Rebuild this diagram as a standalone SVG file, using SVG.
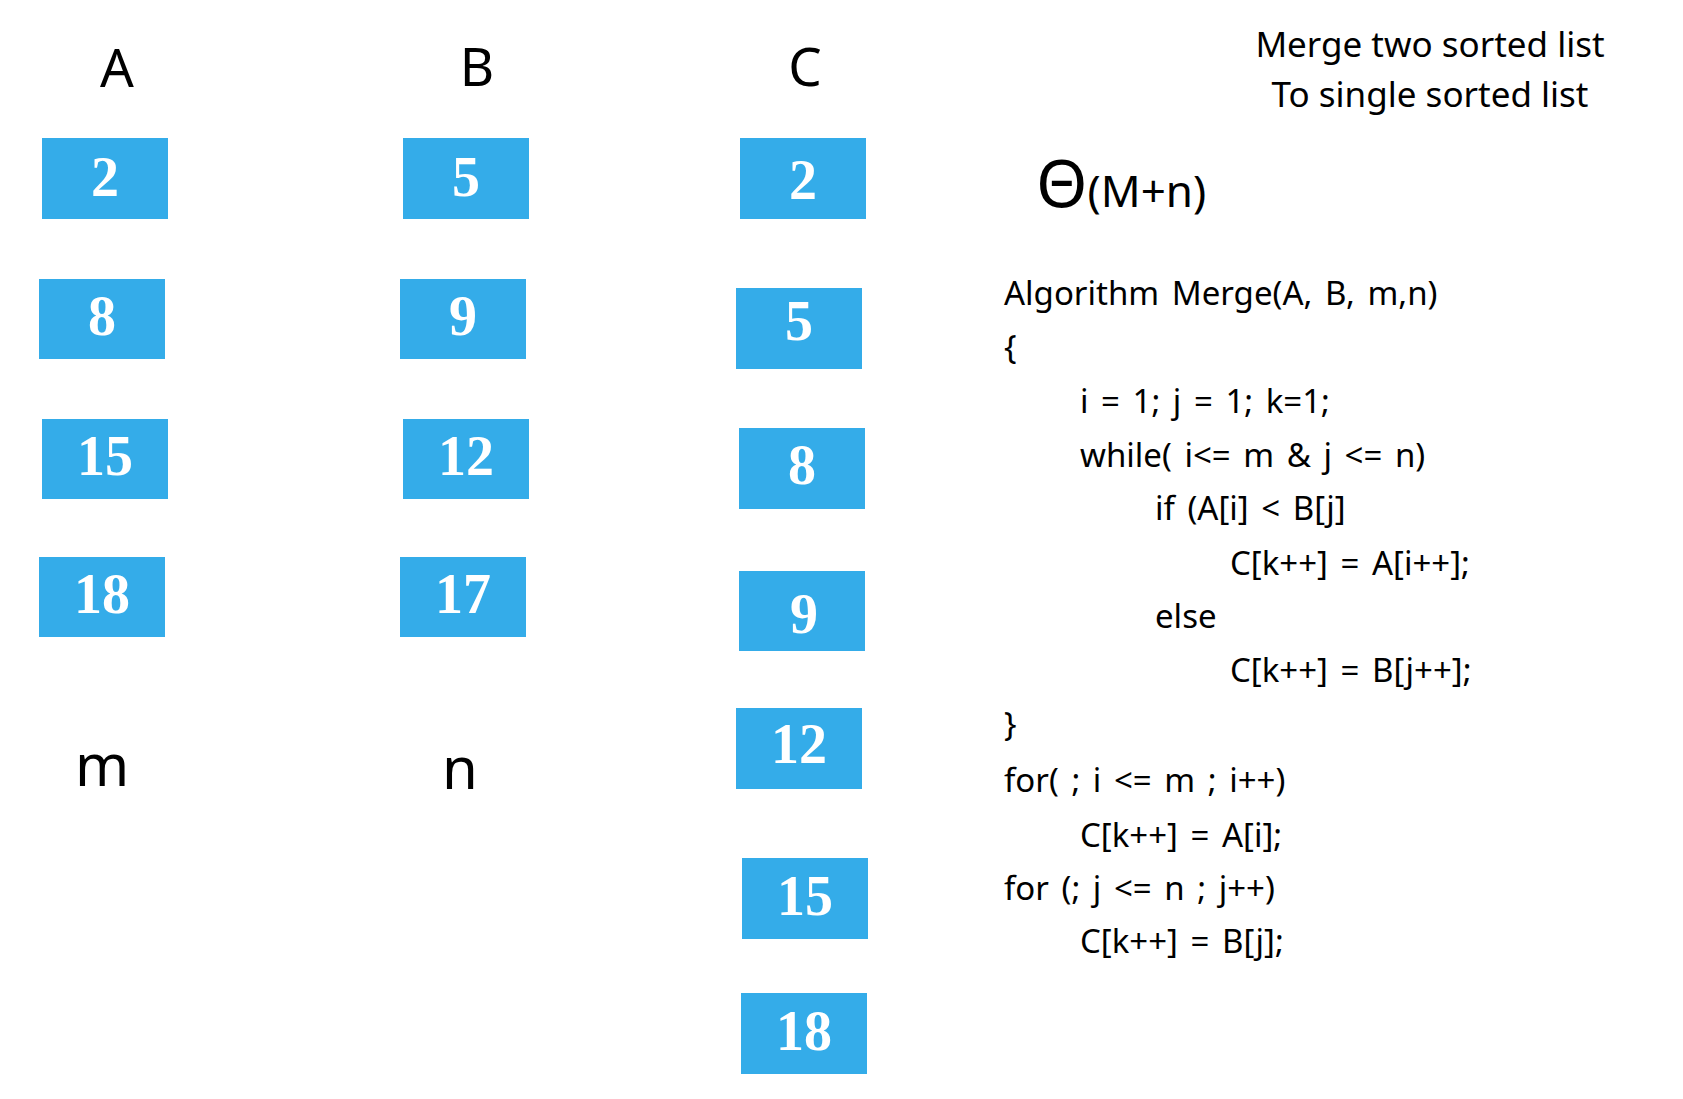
<svg xmlns="http://www.w3.org/2000/svg" width="1683" height="1099" viewBox="0 0 1683 1099">
<style>
.box{fill:#34ACE9}
.num{font-family:"Liberation Serif","Times New Roman",serif;font-weight:bold;font-size:56px;fill:#ffffff;text-anchor:middle}
.lbl{font-family:"Noto Sans","Open Sans",sans-serif;font-size:53px;fill:#000;text-anchor:middle}
.code{font-family:"Noto Sans","Open Sans",sans-serif;font-size:33px;word-spacing:4px;fill:#000}
.title{font-family:"Noto Sans","Open Sans",sans-serif;font-size:35px;fill:#000;text-anchor:middle}
</style>
<rect width="1683" height="1099" fill="#ffffff"/>
<g id="labels">
<text class="lbl" x="117" y="87">A</text>
<text class="lbl" x="477" y="86">B</text>
<text class="lbl" x="805" y="86">C</text>
<text class="lbl" x="102" y="786" style="font-size:58px">m</text>
<text class="lbl" x="460" y="789" style="font-size:58px">n</text>
</g>
<g id="A2"><rect class="box" x="42" y="138" width="126" height="81"/><text class="num" x="105" y="196">2</text></g>
<g id="A8"><rect class="box" x="39" y="279" width="126" height="80"/><text class="num" x="102" y="335">8</text></g>
<g id="A15"><rect class="box" x="42" y="419" width="126" height="80"/><text class="num" x="105" y="475">15</text></g>
<g id="A18"><rect class="box" x="39" y="557" width="126" height="80"/><text class="num" x="102" y="613">18</text></g>
<g id="B5"><rect class="box" x="403" y="138" width="126" height="81"/><text class="num" x="466" y="196">5</text></g>
<g id="B9"><rect class="box" x="400" y="279" width="126" height="80"/><text class="num" x="463" y="335">9</text></g>
<g id="B12"><rect class="box" x="403" y="419" width="126" height="80"/><text class="num" x="466" y="475">12</text></g>
<g id="B17"><rect class="box" x="400" y="557" width="126" height="80"/><text class="num" x="463" y="613">17</text></g>
<g id="C2"><rect class="box" x="740" y="138" width="126" height="81"/><text class="num" x="803" y="199">2</text></g>
<g id="C5"><rect class="box" x="736" y="288" width="126" height="81"/><text class="num" x="799" y="340">5</text></g>
<g id="C8"><rect class="box" x="739" y="428" width="126" height="81"/><text class="num" x="802" y="484">8</text></g>
<g id="C9"><rect class="box" x="739" y="571" width="126" height="80"/><text class="num" x="804" y="633">9</text></g>
<g id="C12"><rect class="box" x="736" y="708" width="126" height="81"/><text class="num" x="799" y="763">12</text></g>
<g id="C15"><rect class="box" x="742" y="858" width="126" height="81"/><text class="num" x="805" y="915">15</text></g>
<g id="C18"><rect class="box" x="741" y="993" width="126" height="81"/><text class="num" x="804" y="1050">18</text></g>
<g id="connectors"></g>
<g id="title">
<text class="title" x="1430" y="57">Merge two sorted list</text>
<text class="title" x="1430" y="107">To single sorted list</text>
</g>
<g id="complexity">
<text x="1036" y="207" style="font-family:'Noto Sans','Open Sans',sans-serif;font-size:66px;fill:#000">Θ<tspan style="font-size:44px">(M+n)</tspan></text>
</g>
<g id="code">
<text class="code" x="1004" y="305">Algorithm Merge(A, B, m,n)</text>
<text class="code" x="1004" y="359">{</text>
<text class="code" x="1080" y="413">i = 1; j = 1; k=1;</text>
<text class="code" x="1080" y="467">while( i&lt;= m &amp; j &lt;= n)</text>
<text class="code" x="1155" y="520">if (A[i] &lt; B[j]</text>
<text class="code" x="1230" y="575">C[k++] = A[i++];</text>
<text class="code" x="1155" y="628">else</text>
<text class="code" x="1230" y="682">C[k++] = B[j++];</text>
<text class="code" x="1004" y="736">}</text>
<text class="code" x="1004" y="792">for( ; i &lt;= m ; i++)</text>
<text class="code" x="1080" y="847">C[k++] = A[i];</text>
<text class="code" x="1004" y="900">for (; j &lt;= n ; j++)</text>
<text class="code" x="1080" y="953">C[k++] = B[j];</text>
</g>
</svg>
